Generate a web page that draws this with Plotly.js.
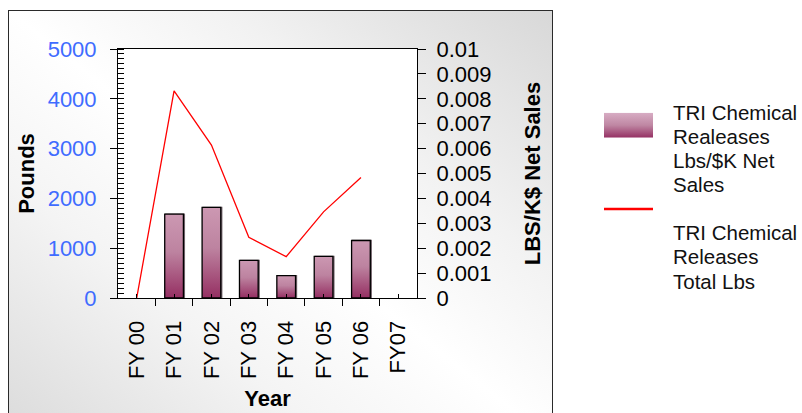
<!DOCTYPE html>
<html>
<head>
<meta charset="utf-8">
<script src="https://cdn.plot.ly/plotly-3.0.1.min.js"></script>
<style>
  html, body { margin: 0; padding: 0; background: #ffffff; overflow: hidden; }
  #frame {
    position: absolute; left: 8px; top: 10px; width: 543px; height: 430px;
    border: 1.5px solid #2a2a2a;
    background: linear-gradient(to top right, #dadada 0%, #f4f4f4 30%, #ffffff 50%, #f2f2f2 70%, #d8d8d8 100%);
  }
  #chart { position: absolute; left: 0; top: 0; width: 802px; height: 413px; }
</style>
</head>
<body>
<div id="frame"></div>
<div id="chart"></div>
<script>
// Fiscal years on the category axis
const years = ['FY 00', 'FY 01', 'FY 02', 'FY 03', 'FY 04', 'FY 05', 'FY 06', 'FY07'];
// TRI chemical releases per $K net sales (right axis)
const lbsPerNetSales = [null, 0.00337, 0.00364, 0.00151, 0.0009, 0.00167, 0.00231, null];
// TRI chemical releases, total pounds (left axis)
const totalLbs = [0, 4160, 3070, 1220, 830, 1730, 2420, null];
// Legend entries, one line of text per row
const legendBarLines = ['TRI Chemical', 'Realeases', 'Lbs/$K Net', 'Sales'];
const legendLineLines = ['TRI Chemical', 'Releases', 'Total Lbs'];

const FONT = 'Liberation Sans, Arial, sans-serif';
const W = 802, H = 413;
const M = { l: 118, r: 385, t: 49, b: 115 };
const PW = W - M.l - M.r, PH = H - M.t - M.b;
const px = x => (x - M.l) / PW;
const py = y => (M.t + PH - y) / PH;

const idx = years.map((_, i) => i);
const bounds = years.map((_, i) => i - 0.5).concat([years.length - 0.5]);

const barTrace = {
  type: 'bar', x: idx, y: lbsPerNetSales, yaxis: 'y2', width: 0.5,
  marker: { color: '#b57a98', line: { color: '#000000', width: 1.3 } },
  hoverinfo: 'skip', showlegend: false
};
const lineTrace = {
  type: 'scatter', mode: 'lines', x: idx, y: totalLbs, yaxis: 'y',
  line: { color: '#ff0000', width: 1.3 }, hoverinfo: 'skip', showlegend: false
};

const annotations = [];
function legendText(lines, firstBaseline) {
  lines.forEach((t, i) => {
    annotations.push({
      xref: 'paper', yref: 'paper', x: px(671), y: py(firstBaseline + i * 24.3 - 7),
      xanchor: 'left', yanchor: 'middle', showarrow: false, align: 'left',
      text: t, font: { family: FONT, size: 20.5, color: '#111111' }
    });
  });
}
legendText(legendBarLines, 119);
legendText(legendLineLines, 239.5);

const swatchSvg = '<svg xmlns="http://www.w3.org/2000/svg" width="49" height="25" preserveAspectRatio="none">' +
  '<defs><linearGradient id="s" x1="0" y1="0" x2="0" y2="1">' +
  '<stop offset="0" stop-color="#d8adc4"/><stop offset="0.5" stop-color="#bf87a3"/><stop offset="1" stop-color="#953063"/>' +
  '</linearGradient></defs><rect width="49" height="25" fill="url(#s)"/></svg>';

const layout = {
  width: W, height: H,
  margin: M,
  paper_bgcolor: 'rgba(0,0,0,0)',
  plot_bgcolor: '#ffffff',
  font: { family: FONT, size: 22, color: '#000000' },
  xaxis: {
    type: 'linear', range: [-0.5, years.length - 0.5],
    tickmode: 'array', tickvals: idx, ticktext: years,
    ticks: 'inside', ticklen: 4, tickcolor: '#000', tickwidth: 1,
    tickangle: -90, ticklabelstandoff: 13,
    minor: { tickmode: 'array', tickvals: bounds, ticks: 'outside', ticklen: 7, tickcolor: '#000', tickwidth: 1 },
    showline: true, linecolor: '#000', linewidth: 1, mirror: true,
    showgrid: false, zeroline: false, fixedrange: true,
    tickfont: { family: FONT, size: 22, color: '#000' },
    title: { text: '<b>Year</b>', standoff: 12, font: { family: FONT, size: 22, color: '#000' } }
  },
  yaxis: {
    range: [0, 5000], dtick: 1000, tick0: 0,
    ticks: 'outside', ticklen: 7, tickcolor: '#000', tickwidth: 1,
    minor: { dtick: 100, tick0: 0, ticks: 'inside', ticklen: 6, tickcolor: '#000', tickwidth: 1 },
    ticklabelstandoff: 9,
    showline: true, linecolor: '#000', linewidth: 1,
    showgrid: false, zeroline: false, fixedrange: true,
    tickfont: { family: FONT, size: 22, color: '#3f6cff' },
    title: { text: '<b>Pounds</b>', standoff: 6, font: { family: FONT, size: 22, color: '#000' } }
  },
  yaxis2: {
    overlaying: 'y', side: 'right', range: [0, 0.01], dtick: 0.001, tick0: 0,
    ticks: 'outside', ticklen: 8, tickcolor: '#000', tickwidth: 1,
    ticklabelstandoff: 6,
    showline: true, linecolor: '#000', linewidth: 1,
    showgrid: false, zeroline: false, fixedrange: true,
    tickfont: { family: FONT, size: 22, color: '#000' },
    title: { text: '<b>LBS/K$ Net Sales</b>', standoff: 34, font: { family: FONT, size: 22, color: '#000' } }
  },
  yaxis3: {
    overlaying: 'y', side: 'right', range: [0, 0.01], dtick: 0.001, tick0: 0,
    ticks: 'inside', ticklen: 6, tickcolor: '#000', tickwidth: 1,
    showticklabels: false, showline: false, showgrid: false, zeroline: false, fixedrange: true
  },
  showlegend: false,
  annotations: annotations,
  shapes: [{
    type: 'line', xref: 'paper', yref: 'paper',
    x0: px(604), x1: px(653), y0: py(209), y1: py(209),
    line: { color: '#ff0000', width: 2.5 }
  }],
  images: [{
    source: 'data:image/svg+xml;charset=utf-8,' + encodeURIComponent(swatchSvg),
    xref: 'paper', yref: 'paper', x: px(604), y: py(112.7),
    sizex: 49 / PW, sizey: 25 / PH, xanchor: 'left', yanchor: 'top',
    sizing: 'stretch', layer: 'above'
  }]
};

// Shade each bar top-to-bottom with a mauve gradient and a thin right-hand shadow
function shadeBars(gd) {
  const svg = gd.querySelector('svg.main-svg');
  if (!svg) return;
  let defs = svg.querySelector('defs');
  if (!defs) { defs = document.createElementNS('http://www.w3.org/2000/svg', 'defs'); svg.insertBefore(defs, svg.firstChild); }
  if (!defs.querySelector('#barShade')) {
    const ns = 'http://www.w3.org/2000/svg';
    const g = document.createElementNS(ns, 'linearGradient');
    g.setAttribute('id', 'barShade');
    g.setAttribute('x1', '0'); g.setAttribute('y1', '0'); g.setAttribute('x2', '0'); g.setAttribute('y2', '1');
    [['0', '#cc98b2'], ['0.45', '#bd83a0'], ['1', '#952f62']].forEach(([o, c]) => {
      const s = document.createElementNS(ns, 'stop');
      s.setAttribute('offset', o); s.setAttribute('stop-color', c);
      g.appendChild(s);
    });
    defs.appendChild(g);
  }
  gd.querySelectorAll('.trace.bars .point path').forEach(p => {
    p.style.fill = 'url(#barShade)';
    p.style.filter = 'drop-shadow(1.5px 0px 0px rgba(70,50,60,0.75))';
  });
}

const gd = document.getElementById('chart');
Plotly.newPlot(gd, [barTrace, lineTrace], layout, { displayModeBar: false, staticPlot: true })
  .then(() => shadeBars(gd));
</script>
</body>
</html>
